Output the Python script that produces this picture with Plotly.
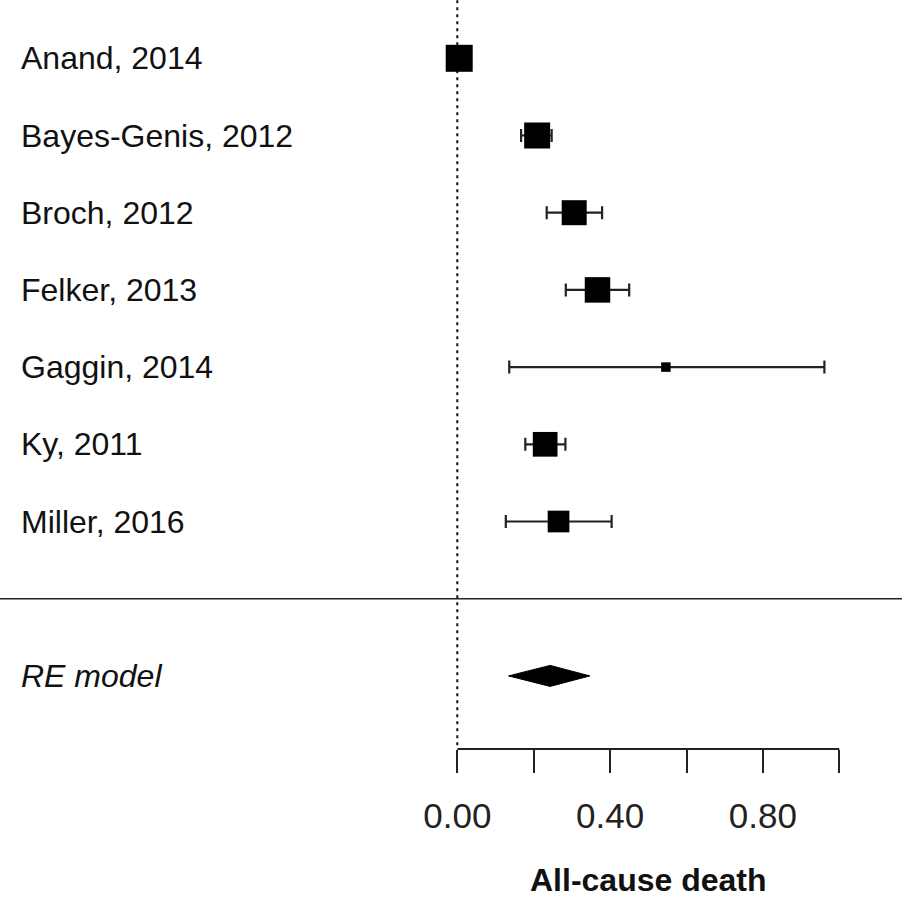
import plotly.graph_objects as go

# Study-level estimates (all-cause death) with 95% CIs
studies = ["Anand, 2014", "Bayes-Genis, 2012", "Broch, 2012", "Felker, 2013",
           "Gaggin, 2014", "Ky, 2011", "Miller, 2016"]
estimates = [0.005, 0.209, 0.306, 0.367, 0.546, 0.230, 0.265]
ci_low = [0.000, 0.167, 0.234, 0.284, 0.136, 0.178, 0.127]
ci_high = [0.012, 0.247, 0.379, 0.450, 0.961, 0.283, 0.404]
weights = [27, 26, 25, 25.5, 9.5, 24.7, 21.7]  # marker side, px

# Pooled random-effects estimate
re_label = "RE model"
re_est, re_low, re_high = 0.243, 0.134, 0.347

tick_vals = [0.0, 0.2, 0.4, 0.6, 0.8, 1.0]
tick_text = ["0.00", "", "0.40", "", "0.80", ""]
x_title = "All-cause death"

W, H = 902, 903
MB = 154
ROW_PX = 77.2
FIRST_ROW_PX = 58.3
ZERO_PX = 457.3
UNIT_PX = 382.0

rows = list(range(len(studies)))
sep_row = len(studies)
re_row = len(studies) + 1

plot_h = H - MB
y_top = -FIRST_ROW_PX / ROW_PX
y_bot = (plot_h - FIRST_ROW_PX) / ROW_PX
x_lo = -ZERO_PX / UNIT_PX
x_hi = (W - ZERO_PX) / UNIT_PX

ink = "#111111"
line_c = "#222222"
font_fam = "Liberation Sans, Arial, sans-serif"
label_font = dict(family=font_fam, size=32, color=ink)

fig = go.Figure()

# CI whiskers (drawn first so the squares sit on top)
fig.add_trace(go.Scatter(
    x=estimates, y=rows, mode="markers",
    marker=dict(size=1, opacity=0),
    error_x=dict(type="data", symmetric=False,
                 array=[h - e for h, e in zip(ci_high, estimates)],
                 arrayminus=[e - l for e, l in zip(estimates, ci_low)],
                 color=line_c, thickness=2.2, width=6.5),
    showlegend=False, hoverinfo="skip",
))

# study squares sized by weight
fig.add_trace(go.Scatter(
    x=estimates, y=rows, mode="markers",
    marker=dict(symbol="square", size=weights, color="black", opacity=1,
                line=dict(width=0)),
    showlegend=False, hoverinfo="skip",
))

# pooled diamond
dh = 0.136
fig.add_trace(go.Scatter(
    x=[re_low, re_est, re_high, re_est, re_low],
    y=[re_row, re_row - dh, re_row, re_row + dh, re_row],
    mode="lines", fill="toself", fillcolor="black",
    line=dict(color="black", width=1), showlegend=False, hoverinfo="skip",
))

# reference line at zero
fig.add_shape(type="line", xref="x", yref="paper", x0=0, x1=0, y0=0.005, y1=1,
              line=dict(color="#111111", width=2, dash="3px,4px"), layer="below")
# separator above the pooled row
fig.add_shape(type="line", xref="paper", yref="y", x0=0, x1=1, y0=sep_row, y1=sep_row,
              line=dict(color=line_c, width=1.6))
# x-axis baseline limited to the tick span
fig.add_shape(type="line", xref="x", yref="paper", x0=tick_vals[0], x1=tick_vals[-1],
              y0=0, y1=0, line=dict(color=line_c, width=1.8))

# row labels
for r, name in zip(rows, studies):
    fig.add_annotation(x=19 / W, xref="paper", y=r, yref="y", text=name,
                       showarrow=False, xanchor="left", yanchor="middle", font=label_font)
fig.add_annotation(x=19 / W, xref="paper", y=re_row, yref="y", text=f"<i>{re_label}</i>",
                   showarrow=False, xanchor="left", yanchor="middle", font=label_font)

# axis title centred under the tick span
fig.add_annotation(x=(tick_vals[0] + tick_vals[-1]) / 2, xref="x", y=-(880 - plot_h) / plot_h,
                   yref="paper", text=f"<b>{x_title}</b>", showarrow=False,
                   xanchor="center", yanchor="middle",
                   font=dict(family=font_fam, size=32, color=ink))

fig.update_layout(
    width=W, height=H,
    margin=dict(l=0, r=0, t=0, b=MB),
    plot_bgcolor="white", paper_bgcolor="white",
    xaxis=dict(range=[x_lo, x_hi], showgrid=False, zeroline=False, showline=False,
               tickmode="array", tickvals=tick_vals, ticktext=tick_text,
               ticks="outside", ticklen=23, tickwidth=1.8, tickcolor=line_c,
               ticklabelstandoff=13,
               tickfont=dict(family=font_fam, size=35, color="#222222")),
    yaxis=dict(range=[y_bot, y_top], showgrid=False, zeroline=False, showline=False,
               showticklabels=False, ticks=""),
)

fig.write_html("out.html")
